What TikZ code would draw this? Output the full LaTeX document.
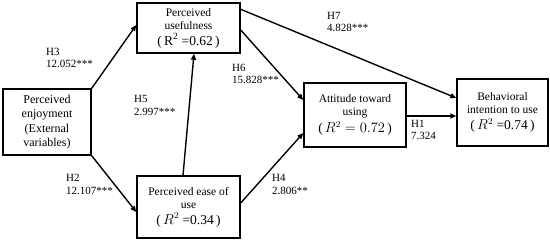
\documentclass[tikz,border=0pt]{standalone}
\usepackage{fontspec}
\setmainfont{Liberation Serif}
\usetikzlibrary{arrows.meta}
\newcommand{\bigline}[1]{{\fontsize{13.5}{15}\selectfont #1}}
\begin{document}
\begin{tikzpicture}[x=1pt,y=-1pt,
  box/.style={draw,line width=1.4pt,align=center,inner sep=0pt,font=\fontsize{11.5}{13}\selectfont},
  lab/.style={anchor=west,align=left,inner sep=0pt,font=\fontsize{11}{12.5}\selectfont},
  arr/.style={line width=1.4pt,-{Triangle[length=6pt,width=5pt]}}]
\useasboundingbox (0,0) rectangle (550,242);
\node[box,minimum width=88pt,minimum height=66pt,font=\fontsize{12}{14.5}\selectfont] (enj) at (47,122) {Perceived\\enjoyment\\(External\\variables)};
\node[box,minimum width=103pt,minimum height=50pt] (use) at (188.5,28) {Perceived\\usefulness\\[3pt]\bigline{(\,R\textsuperscript{2} =0.62\,)}};
\node[box,minimum width=103pt,minimum height=62pt] (ease) at (188.5,207) {Perceived ease of\\use\\[3pt]\bigline{(\,$R^2$ =0.34\,)}};
\node[box,minimum width=102pt,minimum height=64pt] (att) at (355,115) {Attitude toward\\using\\[3pt]\bigline{(\,$R^2 = 0.72$\,)}};
\node[box,minimum width=91pt,minimum height=67pt] (beh) at (502.5,112.5) {Behavioral\\intention to use\\[3pt]\bigline{(\,$R^2$ =0.74\,)}};
\draw[arr] (enj.north east) -- ([yshift=3pt]use.west);
\draw[arr] (enj.south east) -- ([yshift=-5pt]ease.west);
\draw[arr] ([xshift=-5.5pt]ease.north) -- ([xshift=5.5pt]use.south);
\draw[arr] ([yshift=-2pt]use.east) -- ([yshift=15pt]att.west);
\draw[arr] ([yshift=4pt]ease.east) -- ([yshift=-18pt]att.west);
\draw[arr] ([yshift=-7pt]use.north east) -- ([yshift=14.5pt]beh.west);
\draw[arr] ([yshift=-1pt]att.east) -- ([yshift=-1pt]att.east -| beh.west);
\node[lab] (h3) at (46,58) {H3\\12.052***};
\node[lab] (h2) at (66,184.5) {H2\\12.107***};
\node[lab] (h5) at (134,105.5) {H5\\2.997***};
\node[lab] (h6) at (232,74) {H6\\15.828***};
\node[lab] (h4) at (272,184.5) {H4\\2.806**};
\node[lab] (h7) at (327,22) {H7\\4.828***};
\node[lab] (h1) at (411,130) {H1\\7.324};
\end{tikzpicture}
\end{document}
